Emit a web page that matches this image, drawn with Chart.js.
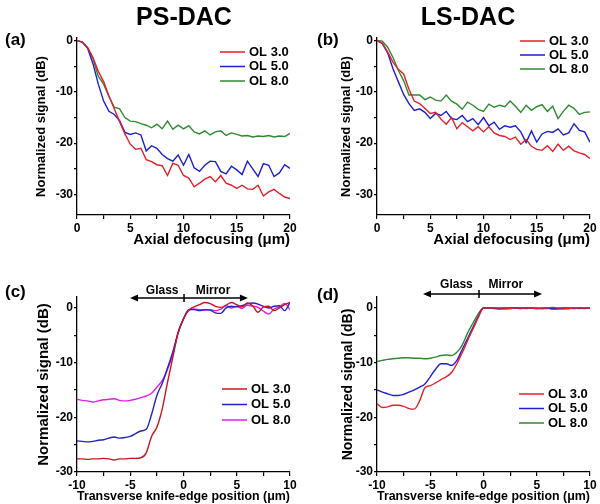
<!DOCTYPE html>
<html>
<head>
<meta charset="utf-8">
<script src="https://cdn.jsdelivr.net/npm/chart.js@4.4.1/dist/chart.umd.min.js"></script>
<style>
  html, body { margin: 0; padding: 0; background: #fff; }
  #fig { position: relative; width: 600px; height: 504px; overflow: hidden; font-family: "Liberation Sans", Arial, sans-serif; }
  #fig canvas { position: absolute; }
  .head { position: absolute; font-weight: bold; font-size: 25px; line-height: 28px; text-align: center; color: #000; }
  .tag { position: absolute; font-weight: bold; font-size: 17px; line-height: 20px; color: #000; }
</style>
</head>
<body>
<div id="fig">
  <canvas id="chart-a" width="300" height="250" style="left:0;top:0"></canvas>
  <canvas id="chart-b" width="300" height="250" style="left:300px;top:0"></canvas>
  <canvas id="chart-c" width="300" height="254" style="left:0;top:250px"></canvas>
  <canvas id="chart-d" width="300" height="254" style="left:300px;top:250px"></canvas>
  <div class="head" style="left:0;top:2px;width:368px">PS-DAC</div>
  <div class="head" style="left:368px;top:2px;width:200px">LS-DAC</div>
  <div class="tag" style="left:5px;top:30px">(a)</div>
  <div class="tag" style="left:317px;top:30px">(b)</div>
  <div class="tag" style="left:5px;top:282px">(c)</div>
  <div class="tag" style="left:317px;top:285px">(d)</div>
</div>
<script>
// Axial defocusing (um), shared by panels (a) and (b)
const axialX = [0, 0.5, 1, 1.5, 2, 2.5, 3, 3.5, 4, 4.5, 5, 5.5, 6, 6.5, 7, 7.5, 8, 8.5, 9, 9.5, 10,
  10.5, 11, 11.5, 12, 12.5, 13, 13.5, 14, 14.5, 15, 15.5, 16, 16.5, 17, 17.5, 18, 18.5, 19, 19.5, 20];

// (a) PS-DAC, normalized signal (dB)
const psAxial30 = [0, -0.3, -1.4, -3.3, -6.0, -8.0, -10.8, -13.3, -15.8, -18.2, -20.2, -21.2, -21.0, -23.2, -23.6, -24.2, -24.4, -26.3, -23.9, -24.3, -26.3,
  -26.8, -28.5, -27.8, -27.0, -26.5, -27.5, -26.3, -27.8, -28.2, -28.8, -28.2, -28.9, -29.0, -28.2, -30.3, -29.5, -29.0, -29.8, -30.5, -30.8];
const psAxial50 = [0, -0.3, -1.5, -4.5, -8.5, -11.8, -13.8, -14.4, -15.6, -17.9, -18.3, -18.0, -18.4, -21.5, -20.5, -21.0, -22.2, -23.0, -23.5, -22.3, -24.3,
  -22.2, -24.8, -25.5, -24.3, -23.5, -23.6, -25.5, -26.0, -24.5, -25.2, -26.1, -23.5, -25.0, -26.5, -24.0, -24.3, -26.5, -25.8, -24.2, -24.9];
const psAxial80 = [0, -0.3, -1.4, -3.5, -7.0, -8.5, -10.9, -13.0, -13.3, -15.0, -15.7, -15.8, -16.2, -16.5, -17.0, -16.3, -17.2, -15.7, -17.3, -16.5, -17.2,
  -16.6, -17.8, -18.2, -17.6, -18.4, -17.8, -17.6, -18.5, -18.0, -18.3, -18.6, -18.5, -18.8, -18.6, -18.7, -18.5, -18.8, -18.6, -18.7, -18.1];

// (b) LS-DAC
const lsAxial30 = [0, -0.5, -2.2, -4.2, -5.6, -6.5, -9.5, -11.8, -12.3, -13.2, -14.2, -14.0, -15.3, -16.3, -15.0, -17.2, -16.0, -16.8, -17.6, -16.8, -17.8,
  -16.8, -18.0, -18.5, -18.7, -19.3, -18.8, -20.2, -19.3, -20.6, -21.2, -21.4, -20.5, -21.6, -20.2, -21.4, -20.6, -21.5, -21.9, -22.2, -23.0];
const lsAxial50 = [0, -0.6, -2.4, -5.5, -8.0, -10.5, -12.3, -13.6, -13.3, -14.0, -15.2, -14.2, -14.6, -13.8, -15.2, -15.4, -14.6, -15.8, -15.2, -16.4, -15.0,
  -16.6, -15.9, -17.3, -16.6, -16.9, -16.6, -17.8, -19.9, -17.6, -19.8, -18.2, -17.7, -17.9, -17.2, -18.4, -18.0, -16.2, -17.5, -17.8, -19.8];
const lsAxial80 = [0, -0.1, -1.3, -3.3, -5.8, -7.8, -10.6, -10.6, -10.6, -11.5, -11.0, -11.6, -11.8, -10.6, -11.8, -12.4, -13.4, -12.0, -12.6, -13.4, -13.8,
  -12.4, -13.0, -12.6, -12.9, -11.8, -12.8, -14.0, -12.6, -13.6, -12.9, -12.5, -13.8, -12.8, -15.2, -13.8, -12.6, -13.2, -14.4, -14.0, -13.9];

// Transverse knife-edge position (um), shared by panels (c) and (d)
const edgeX = [-10, -9.5, -9, -8.5, -8, -7.5, -7, -6.5, -6, -5.5, -5, -4.5, -4, -3.5, -3, -2.5, -2, -1.5, -1, -0.5, 0,
  0.5, 1, 1.5, 2, 2.5, 3, 3.5, 4, 4.5, 5, 5.5, 6, 6.5, 7, 7.5, 8, 8.5, 9, 9.5, 10];

// (c) PS-DAC
const psEdge30 = [-27.6, -27.6, -27.7, -27.6, -27.6, -27.5, -27.6, -27.8, -27.6, -27.6, -27.5, -27.5, -27.4, -26.5, -23.5, -21.8, -18.5, -13.6, -9.0, -4.5, -2.0,
  -0.4, 0.2, 0.6, 1.0, 0.8, 0.3, 0.1, 0.5, 1.0, 0.6, 0.2, 0.9, 0.4, -0.8, 0.2, 0.3, -0.5, 0.0, 0.6, 1.0];
const psEdge50 = [-24.3, -24.4, -24.5, -24.4, -24.2, -24.1, -23.8, -23.6, -23.8, -23.7, -23.5, -23.0, -22.5, -22.2, -19.5, -16.0, -13.8, -11.0, -8.0, -4.5, -2.0,
  -0.3, -0.3, -0.5, -0.3, -0.4, -0.9, -1.0, 0.0, 0.3, 0.2, 0.4, 0.8, 0.9, 0.7, 0.3, 0.0, 0.3, 0.4, -0.5, 1.0];
const psEdge80 = [-16.7, -16.9, -17.0, -17.2, -17.0, -16.8, -16.7, -16.6, -16.9, -17.0, -16.9, -16.7, -16.4, -16.1, -15.6, -14.5, -13.3, -11.2, -8.5, -4.5, -2.0,
  -0.4, -0.2, -0.3, -0.4, -0.3, -0.5, -0.2, 0.4, 0.0, 0.3, -0.1, 0.5, 0.3, 0.1, -0.6, -1.1, -0.2, 0.2, 0.8, -0.3];

// (d) LS-DAC
const lsEdge30 = [-17.5, -18.2, -18.1, -17.8, -17.8, -18.0, -18.4, -18.5, -17.0, -14.6, -14.2, -13.7, -13.1, -12.6, -11.8, -10.2, -8.2, -6.0, -3.9, -1.8, 0,
  0, 0, 0, 0, -0.1, 0, 0, 0, 0, -0.1, 0, 0, 0.1, 0, 0, -0.1, 0, 0, 0, 0];
const lsEdge50 = [-15.0, -15.4, -15.7, -16.0, -16.0, -15.8, -15.4, -15.0, -14.5, -13.9, -12.6, -11.2, -10.2, -10.2, -10.5, -9.6, -7.6, -5.6, -3.6, -1.6, 0,
  0, 0, -0.1, 0, 0, 0, -0.1, 0, 0, -0.1, -0.1, 0, -0.2, -0.1, 0, 0, -0.1, 0, -0.1, 0];
const lsEdge80 = [-9.8, -9.6, -9.4, -9.3, -9.2, -9.1, -9.1, -9.2, -9.2, -9.3, -9.2, -9.0, -8.7, -8.6, -8.7, -8.1, -6.8, -4.6, -2.8, -1.1, 0,
  0, -0.1, -0.2, -0.2, -0.1, 0, 0, -0.1, 0, 0, -0.1, -0.1, 0, -0.2, -0.2, -0.1, 0, -0.1, 0, 0];

const olLabels = ['OL 3.0', 'OL 5.0', 'OL 8.0'];

const FONT = '"Liberation Sans", Arial, sans-serif';
Chart.defaults.font.family = FONT;
Chart.defaults.color = '#000';

// Legend drawn inside the plot area, as in the figure
const olLegend = {
    id: 'olLegend',
    afterDraw(chart, args, opts) {
        const ctx = chart.ctx;
        ctx.save();
        ctx.font = 'bold 13px ' + FONT;
        ctx.textBaseline = 'middle';
        chart.data.datasets.forEach((ds, i) => {
            const y = opts.y + i * opts.dy;
            ctx.strokeStyle = ds.borderColor;
            ctx.lineWidth = 1.5;
            ctx.beginPath();
            ctx.moveTo(opts.x, y);
            ctx.lineTo(opts.x + 25, y);
            ctx.stroke();
            ctx.fillStyle = '#000';
            ctx.fillText(ds.label, opts.x + 29, y);
        });
        ctx.restore();
    }
};

// Glass <-|-> Mirror marker above panels (c) and (d)
const edgeArrow = {
    id: 'edgeArrow',
    afterDraw(chart, args, o) {
        const ctx = chart.ctx;
        const xs = chart.scales.x;
        const y = chart.chartArea.top + o.dy;
        const x1 = xs.getPixelForValue(o.from);
        const x2 = xs.getPixelForValue(o.to);
        const xm = xs.getPixelForValue(o.mid);
        ctx.save();
        ctx.strokeStyle = '#000';
        ctx.fillStyle = '#000';
        ctx.lineWidth = 1.5;
        ctx.beginPath();
        ctx.moveTo(x1 + 4, y);
        ctx.lineTo(x2 - 4, y);
        ctx.moveTo(xm, y - 4);
        ctx.lineTo(xm, y + 4);
        ctx.stroke();
        ctx.beginPath();
        ctx.moveTo(x1, y);
        ctx.lineTo(x1 + 8, y - 3.5);
        ctx.lineTo(x1 + 8, y + 3.5);
        ctx.closePath();
        ctx.moveTo(x2, y);
        ctx.lineTo(x2 - 8, y - 3.5);
        ctx.lineTo(x2 - 8, y + 3.5);
        ctx.closePath();
        ctx.fill();
        ctx.font = 'bold 12px ' + FONT;
        ctx.textAlign = 'center';
        ctx.textBaseline = 'middle';
        ctx.fillText('Glass', xs.getPixelForValue(o.glassX), y + o.textDy);
        ctx.fillText('Mirror', xs.getPixelForValue(o.mirrorX), y + o.textDy);
        ctx.restore();
    }
};

function toPoints(xs, ys) {
    return xs.map((x, i) => ({ x: x, y: ys[i] }));
}

function makePanel(canvasId, cfg) {
    const ctx = document.getElementById(canvasId);
    if (!ctx) return;

    const plugins = [olLegend];
    if (cfg.arrow) plugins.push(edgeArrow);

    new Chart(ctx, {
        type: 'line',
        data: {
            datasets: cfg.series.map((s, i) => ({
                label: olLabels[i],
                data: toPoints(cfg.xs, s),
                borderColor: cfg.colors[i],
                borderWidth: 1.4,
                pointRadius: 0,
                fill: false,
                tension: cfg.smooth ? 0.4 : 0,
                cubicInterpolationMode: cfg.smooth ? 'monotone' : 'default'
            }))
        },
        options: {
            responsive: false,
            animation: false,
            devicePixelRatio: 1,
            layout: { padding: cfg.padding },
            plugins: {
                legend: { display: false },
                tooltip: { enabled: false },
                olLegend: cfg.legend,
                edgeArrow: cfg.arrow || {}
            },
            scales: {
                x: {
                    type: 'linear',
                    min: cfg.xMin,
                    max: cfg.xMax,
                    border: { display: true, color: '#000', width: 1.3 },
                    grid: { display: true, drawOnChartArea: false, drawTicks: true, tickLength: 4, color: '#000', lineWidth: 1.2 },
                    ticks: {
                        stepSize: 2.5,
                        autoSkip: false,
                        maxRotation: 0,
                        padding: 2,
                        font: { size: 12, weight: 'bold' },
                        callback: v => (v % 5 === 0 ? String(v) : '')
                    },
                    title: {
                        display: true,
                        text: cfg.xTitle,
                        align: cfg.xAlign,
                        padding: 0,
                        font: { size: cfg.xTitleSize, weight: 'bold' }
                    },
                    afterFit: scale => { scale.height = cfg.xHeight; }
                },
                y: {
                    type: 'linear',
                    min: cfg.yMin,
                    max: cfg.yMax,
                    border: { display: true, color: '#000', width: 1.3 },
                    grid: { display: true, drawOnChartArea: false, drawTicks: true, tickLength: 3, color: '#000', lineWidth: 1.2 },
                    ticks: {
                        stepSize: 5,
                        includeBounds: false,
                        padding: 1,
                        font: { size: 12, weight: 'bold' },
                        callback: v => (v % 10 === 0 ? String(v) : '')
                    },
                    title: {
                        display: true,
                        text: 'Normalized signal (dB)',
                        padding: 0,
                        font: { size: cfg.yTitleSize, weight: 'bold' }
                    },
                    afterFit: scale => { scale.width = cfg.yWidth; }
                }
            }
        },
        plugins: plugins
    });
}

makePanel('chart-a', {
    xs: axialX,
    series: [psAxial30, psAxial50, psAxial80],
    colors: ['#e3202a', '#1d1dd2', '#2f8a30'],
    xMin: 0, xMax: 20, yMin: -34, yMax: 0.5,
    xTitle: 'Axial defocusing (\u03bcm)', xAlign: 'end', xTitleSize: 15, yTitleSize: 13,
    padding: { left: 34, right: 10, top: 38, bottom: 1 },
    yWidth: 43, xHeight: 34,
    legend: { x: 220, y: 52, dy: 14.5 }
});

makePanel('chart-b', {
    xs: axialX,
    series: [lsAxial30, lsAxial50, lsAxial80],
    colors: ['#e3202a', '#1d1dd2', '#2f8a30'],
    xMin: 0, xMax: 20, yMin: -34, yMax: 0.5,
    xTitle: 'Axial defocusing (\u03bcm)', xAlign: 'end', xTitleSize: 15, yTitleSize: 13,
    padding: { left: 39, right: 10, top: 38, bottom: 1 },
    yWidth: 38, xHeight: 34,
    legend: { x: 220, y: 41, dy: 14 }
});

makePanel('chart-c', {
    xs: edgeX,
    series: [psEdge30, psEdge50, psEdge80],
    colors: ['#c8161e', '#2020cc', '#e020e6'],
    smooth: true,
    xMin: -10, xMax: 10, yMin: -30, yMax: 2,
    xTitle: 'Transverse knife-edge position (\u03bcm)', xAlign: 'center', xTitleSize: 13, yTitleSize: 15,
    padding: { left: 35, right: 10, top: 47, bottom: 0 },
    yWidth: 42, xHeight: 32,
    legend: { x: 222, y: 139, dy: 15.5 },
    arrow: { from: -5.02, to: 6.05, mid: 0.05, dy: 1, glassX: -2.0, mirrorX: 2.77, textDy: -7 }
});

makePanel('chart-d', {
    xs: edgeX,
    series: [lsEdge30, lsEdge50, lsEdge80],
    colors: ['#e3202a', '#1d1dd2', '#2f8a30'],
    smooth: true,
    xMin: -10, xMax: 10, yMin: -30, yMax: 2,
    xTitle: 'Transverse knife-edge position (\u03bcm)', xAlign: 'center', xTitleSize: 13, yTitleSize: 14,
    padding: { left: 40, right: 10, top: 47, bottom: 0 },
    yWidth: 37, xHeight: 32,
    legend: { x: 219, y: 144, dy: 14.5 },
    arrow: { from: -5.68, to: 5.5, mid: -0.42, dy: -3, glassX: -2.54, mirrorX: 2.1, textDy: -9 }
});
</script>
</body>
</html>
